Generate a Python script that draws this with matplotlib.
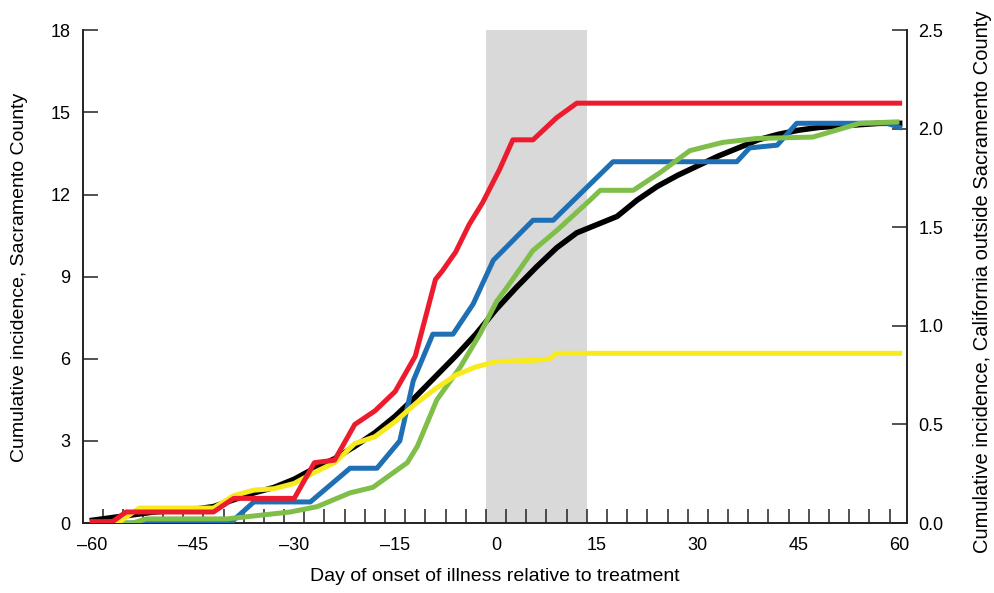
import matplotlib
matplotlib.use("Agg")
import matplotlib.pyplot as plt
import numpy as np

plt.rcParams['font.family'] = ['Liberation Sans', 'DejaVu Sans']

# Sacramento County (left axis)
black_days = [-60, -57, -54, -51, -48, -45, -42, -39, -36, -33, -30, -27, -24, -21, -18, -15,
              -12, -9, -6, -3, 0, 3, 6, 9, 12, 15, 18, 21, 24, 27, 30, 33, 36, 39, 42, 45,
              48, 51, 54, 57, 60]
black_vals = [0.1, 0.2, 0.3, 0.4, 0.45, 0.5, 0.6, 0.85, 1.1, 1.3, 1.6, 2.0, 2.35, 2.8, 3.3, 3.9,
              4.6, 5.35, 6.1, 6.9, 7.8, 8.6, 9.35, 10.05, 10.6, 10.9, 11.2, 11.8, 12.3, 12.7,
              13.05, 13.4, 13.7, 14.0, 14.2, 14.35, 14.45, 14.5, 14.55, 14.6, 14.6]

# California outside Sacramento County (right axis)
red_days = [-60, -57, -55, -42, -39, -30, -27, -24, -21, -18, -15, -12, -9, -8, -6, -4, -2,
            0.5, 2.5, 5.5, 9, 12, 60]
red_vals = [0.007, 0.007, 0.056, 0.056, 0.125, 0.125, 0.306, 0.319, 0.5, 0.569, 0.667, 0.847,
            1.236, 1.278, 1.375, 1.514, 1.625, 1.792, 1.944, 1.944, 2.056, 2.13, 2.13]

blue_days = [-60, -39.5, -36, -27.6, -21.7, -17.7, -14.3, -12.3, -9.4, -6.4, -3.4, -0.4, 5.5,
             8.5, 17.4, 35.8, 37.7, 41.8, 44.7, 58.1, 60]
blue_vals = [0.0, 0.0, 0.107, 0.107, 0.278, 0.278, 0.417, 0.722, 0.958, 0.958, 1.111, 1.333,
             1.536, 1.536, 1.833, 1.833, 1.903, 1.917, 2.028, 2.028, 2.007]

green_days = [-60, -54, -52, -40, -30.6, -26.6, -21.7, -18.3, -13.2, -11.7, -8.8, -5.3, -2.4,
              0.1, 1.6, 5.5, 9.1, 14, 15.5, 20.4, 24.4, 28.8, 33.7, 38.8, 47.1, 54.1, 59.6]
green_vals = [0.0, 0.0, 0.021, 0.021, 0.056, 0.083, 0.153, 0.181, 0.306, 0.389, 0.625, 0.792,
              0.958, 1.125, 1.194, 1.383, 1.486, 1.639, 1.688, 1.688, 1.778, 1.889, 1.931,
              1.951, 1.958, 2.028, 2.035]

yellow_days = [-60, -56, -53, -42, -39, -36, -33, -30, -27, -24, -21, -18, -15, -12, -9, -6,
               -3, 0, 6, 8, 9, 60]
yellow_vals = [0.0, 0.007, 0.076, 0.076, 0.139, 0.167, 0.174, 0.201, 0.257, 0.306, 0.403,
               0.438, 0.514, 0.604, 0.681, 0.75, 0.792, 0.819, 0.826, 0.833, 0.861, 0.861]

treatment_window = (-1.5, 13.5)

x_major = [-60, -45, -30, -15, 0, 15, 30, 45, 60]
x_labels = ["\u201360", "\u201345", "\u201330", "\u201315", "0", "15", "30", "45", "60"]
x_minor = np.arange(-58.5, 59, 3)
left_ticks = [0, 3, 6, 9, 12, 15, 18]
right_ticks = [0.0, 0.5, 1.0, 1.5, 2.0, 2.5]

fig = plt.figure(figsize=(9.94, 5.93), dpi=100)
ax = fig.add_axes([0.0835, 0.118, 0.829, 0.831])
ax2 = ax.twinx()

ax.axvspan(*treatment_window, color="#d9d9d9", lw=0, zorder=0)
ax.plot(black_days, black_vals, color="black", lw=4.0, solid_joinstyle="round", zorder=3)
ax2.plot(blue_days, blue_vals, color="#1f6fb4", lw=3.6, zorder=3)
ax2.plot(green_days, green_vals, color="#80be4a", lw=3.6, zorder=4)
ax2.plot(yellow_days, yellow_vals, color="#f7ea1e", lw=3.6, zorder=5)
ax2.plot(red_days, red_vals, color="#ec1c2e", lw=3.6, zorder=6)

ax.set_xlim(-61.4, 61.1)
ax.set_ylim(0, 18)
ax2.set_ylim(0, 2.5)

for a in (ax, ax2):
    a.spines["top"].set_visible(False)
    for s in ("left", "right", "bottom"):
        a.spines[s].set_linewidth(1.2)
        a.spines[s].set_color("#222222")

ax.set_xticks(x_major)
ax.set_xticklabels(x_labels)
ax.set_xticks(x_minor, minor=True)
ax.tick_params(axis="x", which="major", length=0, pad=10, labelsize=13)
ax.tick_params(axis="x", which="minor", direction="in", length=10, width=1.1, color="#222222")
ax.set_yticks(left_ticks)
ax.tick_params(axis="y", direction="in", length=11, width=1.1, pad=9, labelsize=13,
               color="#222222")
ax2.set_yticks(right_ticks)
ax2.set_yticklabels(["%.1f" % t for t in right_ticks])
ax2.tick_params(axis="y", direction="in", length=11, width=1.1, pad=8, labelsize=13,
                color="#222222")

ax.set_xlabel("Day of onset of illness relative to treatment", fontsize=14, labelpad=10)
fig.text(0.02, 0.533, "Cumulative incidence, Sacramento County", rotation=90,
         ha="center", va="center", fontsize=14)
fig.text(0.988, 0.525, "Cumulative incidence, California outside Sacramento County",
         rotation=90, ha="center", va="center", fontsize=14.5)

fig.savefig("out.png", dpi=100)
